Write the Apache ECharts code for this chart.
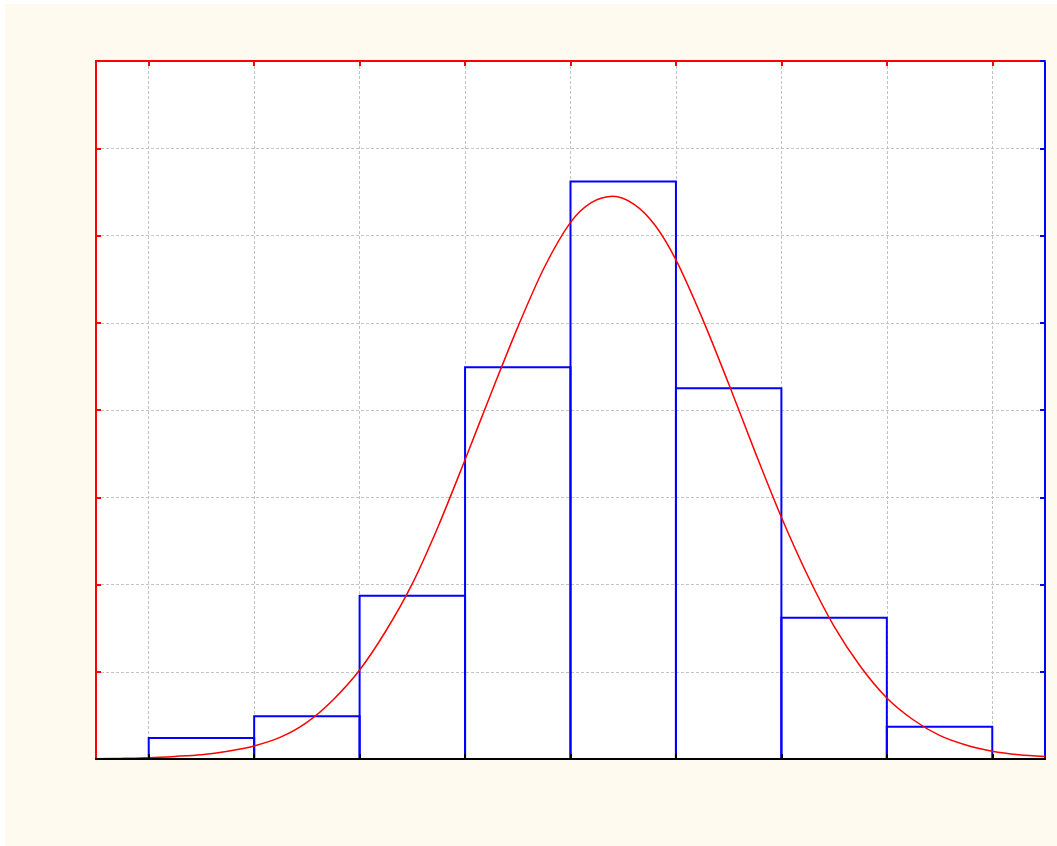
<!DOCTYPE html>
<html>
<head>
<meta charset="utf-8">
<script src="https://cdn.jsdelivr.net/npm/echarts@6/dist/echarts.min.js"></script>
<style>
  html, body { margin: 0; padding: 0; background: #fff; }
  #chart { position: absolute; left: 5px; top: 4px; width: 1052px; height: 842px; }
</style>
</head>
<body>
<div id="chart"></div>
<script>
// histogram bins (edges in class units) and heights
var binStart = [0, 1, 2, 3, 4, 5, 6, 7];
var binEnd = [1, 2, 3, 4, 5, 6, 7, 8];
var binHeight = [0.24, 0.49, 1.87, 4.49, 6.62, 4.25, 1.62, 0.37];

// fitted curve
var curveX = [-0.5, -0.25, 0, 0.25, 0.5, 0.75, 1, 1.25, 1.5, 1.75, 2, 2.25, 2.5, 2.75, 3, 3.25, 3.5, 3.75,
  4, 4.2, 4.4, 4.6, 4.8, 5, 5.25, 5.5, 5.75, 6, 6.25, 6.5, 6.75, 7, 7.25, 7.5, 7.75, 8, 8.25, 8.5];
var curveY = [0.003, 0.008, 0.015, 0.03, 0.05, 0.09, 0.15, 0.25, 0.42, 0.68, 1.02, 1.47, 2.01, 2.68, 3.43, 4.20, 4.95, 5.63,
  6.15, 6.38, 6.45, 6.36, 6.12, 5.72, 5.05, 4.30, 3.52, 2.77, 2.10, 1.52, 1.06, 0.70, 0.45, 0.27, 0.16, 0.09, 0.05, 0.03];

var xTicks = [0, 1, 2, 3, 4, 5, 6, 7, 8];

var myChart = echarts.init(document.getElementById('chart'));

var bars = [];
for (var i = 0; i < binStart.length; i++) {
  bars.push([binStart[i], binEnd[i], binHeight[i]]);
}
var curve = [];
for (var j = 0; j < curveX.length; j++) {
  curve.push([curveX[j], curveY[j]]);
}

var gridDash = { show: true, lineStyle: { color: '#c4c4c4', type: [3, 2], width: 1 } };

myChart.setOption({
  backgroundColor: '#fffaf0',
  animation: false,
  grid: {
    left: 91, top: 57, right: 12, bottom: 87,
    show: true, backgroundColor: '#ffffff', borderWidth: 0
  },
  xAxis: [
    {
      // black bottom line sits above the bars
      type: 'value', min: -0.5, max: 8.5, position: 'bottom', z: 5,
      axisLine: { onZero: false, lineStyle: { color: '#000000', width: 2 } },
      axisTick: { inside: true, length: 5, customValues: xTicks, lineStyle: { color: '#000000', width: 2 } },
      axisLabel: { show: false, customValues: xTicks },
      splitLine: { show: false }
    },
    {
      type: 'value', min: -0.5, max: 8.5, position: 'top',
      axisLine: { onZero: false, lineStyle: { color: '#ff0000', width: 2 } },
      axisTick: { inside: true, length: 5, customValues: xTicks, lineStyle: { color: '#ff0000', width: 2 } },
      axisLabel: { show: false, customValues: xTicks },
      splitLine: gridDash
    }
  ],
  yAxis: [
    {
      type: 'value', min: 0, max: 8, interval: 1, position: 'left',
      axisLine: { show: true, onZero: false, lineStyle: { color: '#ff0000', width: 2 } },
      axisTick: { show: true, inside: true, length: 5, lineStyle: { color: '#ff0000', width: 2 } },
      axisLabel: { show: false },
      splitLine: gridDash
    },
    {
      type: 'value', min: 0, max: 8, interval: 1, position: 'right',
      axisLine: { show: true, onZero: false, lineStyle: { color: '#0000ff', width: 2 } },
      axisTick: { show: true, inside: true, length: 5, lineStyle: { color: '#0000ff', width: 2 } },
      axisLabel: { show: false },
      splitLine: { show: false }
    }
  ],
  series: [
    {
      type: 'custom',
      xAxisIndex: 0,
      yAxisIndex: 0,
      encode: { x: [0, 1], y: 2 },
      renderItem: function (params, api) {
        var p0 = api.coord([api.value(0), 0]);
        var p1 = api.coord([api.value(1), api.value(2)]);
        return {
          type: 'rect',
          shape: { x: p0[0], y: p1[1], width: p1[0] - p0[0], height: p0[1] - p1[1] },
          style: { fill: 'none', stroke: '#0000ff', lineWidth: 2 }
        };
      },
      data: bars,
      z: 3
    },
    {
      type: 'line',
      xAxisIndex: 0,
      yAxisIndex: 0,
      data: curve,
      smooth: 0.3,
      symbol: 'none',
      lineStyle: { color: '#ff0000', width: 1.5 },
      z: 4
    }
  ]
});
window.addEventListener('resize', function () {
  myChart.resize();
});
</script>
</body>
</html>
